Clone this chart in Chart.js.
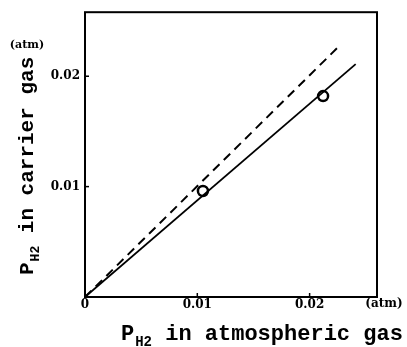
<!DOCTYPE html>
<html>
<head>
<meta charset="utf-8">
<script src="https://cdn.jsdelivr.net/npm/chart.js@4/dist/chart.umd.min.js"></script>
<style>
html,body{margin:0;padding:0;background:#fff;}
#wrap{width:407px;height:347px;position:relative;}
</style>
</head>
<body>
<div id="wrap"><canvas id="c" width="407" height="347"></canvas></div>
<script>
// ---- data (atm) ----
const measuredX = [0.0105, 0.0212];
const measuredY = [0.0096, 0.0182];
const fitLineX = [0, 0.0241];
const fitLineY = [0, 0.0211];
const equalLineX = [0, 0.0228];
const equalLineY = [0, 0.0229];
const xTicks = [0, 0.01, 0.02];
const yTicks = [0.01, 0.02];
const xTitle = ['P', 'H2', ' in atmospheric gas'];
const yTitle = ['P', 'H2', ' in carrier gas'];
const unitLabel = '(atm)';

const pts = (xs, ys) => xs.map((x, i) => ({x: x, y: ys[i]}));

const MONO = '"Liberation Mono", "DejaVu Sans Mono", monospace';
const SERIF = '"DejaVu Serif", "Liberation Serif", serif';

function drawSub(ctx, parts, size) {
  ctx.font = 'bold ' + size + 'px ' + MONO;
  ctx.textBaseline = 'alphabetic';
  ctx.textAlign = 'left';
  let x = 0;
  ctx.fillText(parts[0], x, 0);
  x += ctx.measureText(parts[0]).width;
  const sub = Math.round(size * 0.62);
  ctx.font = 'bold ' + sub + 'px ' + MONO;
  ctx.fillText(parts[1], x + 1, size * 0.28);
  x += ctx.measureText(parts[1]).width + 1;
  ctx.font = 'bold ' + size + 'px ' + MONO;
  ctx.fillText(parts[2], x, 0);
}

const decor = {
  id: 'decor',
  afterDraw(chart) {
    const ctx = chart.ctx;
    const a = chart.chartArea;
    const xs = chart.scales.x, ys = chart.scales.y;
    ctx.save();
    ctx.strokeStyle = '#000';
    ctx.fillStyle = '#000';
    // frame
    ctx.lineWidth = 2;
    ctx.strokeRect(a.left, a.top, a.right - a.left, a.bottom - a.top);
    // inward ticks
    ctx.lineWidth = 1.5;
    xTicks.forEach(v => {
      if (v === 0) return;
      const px = xs.getPixelForValue(v);
      ctx.beginPath(); ctx.moveTo(px, a.bottom); ctx.lineTo(px, a.bottom - 4); ctx.stroke();
    });
    yTicks.forEach(v => {
      const py = ys.getPixelForValue(v);
      ctx.beginPath(); ctx.moveTo(a.left, py); ctx.lineTo(a.left + 4, py); ctx.stroke();
    });
    // unit labels
    ctx.font = 'bold 11px ' + SERIF;
    ctx.textAlign = 'center';
    ctx.textBaseline = 'middle';
    ctx.fillText(unitLabel, 27, 45);
    ctx.font = 'bold 12px ' + SERIF;
    ctx.fillText(unitLabel, 384, 304);
    // x title
    ctx.save();
    ctx.translate(121, 340);
    drawSub(ctx, xTitle, 22);
    ctx.restore();
    // y title
    ctx.save();
    ctx.translate(33, 275);
    ctx.rotate(-Math.PI / 2);
    drawSub(ctx, yTitle, 21);
    ctx.restore();
    ctx.restore();
  }
};

new Chart(document.getElementById('c'), {
  type: 'scatter',
  data: {
    datasets: [
      {
        type: 'line',
        data: pts(equalLineX, equalLineY),
        borderColor: '#000',
        borderWidth: 2,
        borderDash: [9, 6],
        pointRadius: 0,
        fill: false
      },
      {
        type: 'line',
        data: pts(fitLineX, fitLineY),
        borderColor: '#000',
        borderWidth: 1.8,
        pointRadius: 0,
        fill: false
      },
      {
        data: pts(measuredX, measuredY),
        backgroundColor: '#fff',
        borderColor: '#000',
        borderWidth: 2.5,
        pointRadius: 5,
        pointHoverRadius: 5
      }
    ]
  },
  options: {
    responsive: false,
    animation: false,
    events: [],
    layout: {padding: {left: 0, right: 30, top: 12, bottom: 0}},
    plugins: {legend: {display: false}, tooltip: {enabled: false}},
    scales: {
      x: {
        type: 'linear',
        min: 0, max: 0.026,
        afterFit(s) { s.height = 50; },
        afterBuildTicks(s) { s.ticks = xTicks.map(v => ({value: v})); },
        grid: {display: false, drawTicks: false, tickLength: 0},
        border: {display: false},
        ticks: {
          color: '#000',
          font: {family: SERIF, size: 12, weight: 'bold'},
          padding: 1,
          maxRotation: 0,
          autoSkip: false,
          callback: v => v === 0 ? '0' : v.toFixed(2)
        }
      },
      y: {
        type: 'linear',
        min: 0, max: 0.0258,
        afterFit(s) { s.width = 85; },
        afterBuildTicks(s) { s.ticks = yTicks.map(v => ({value: v})); },
        grid: {display: false, drawTicks: false, tickLength: 0},
        border: {display: false},
        ticks: {
          color: '#000',
          font: {family: SERIF, size: 12, weight: 'bold'},
          padding: 5,
          autoSkip: false,
          callback: v => v.toFixed(2)
        }
      }
    }
  },
  plugins: [decor]
});
</script>
</body>
</html>
